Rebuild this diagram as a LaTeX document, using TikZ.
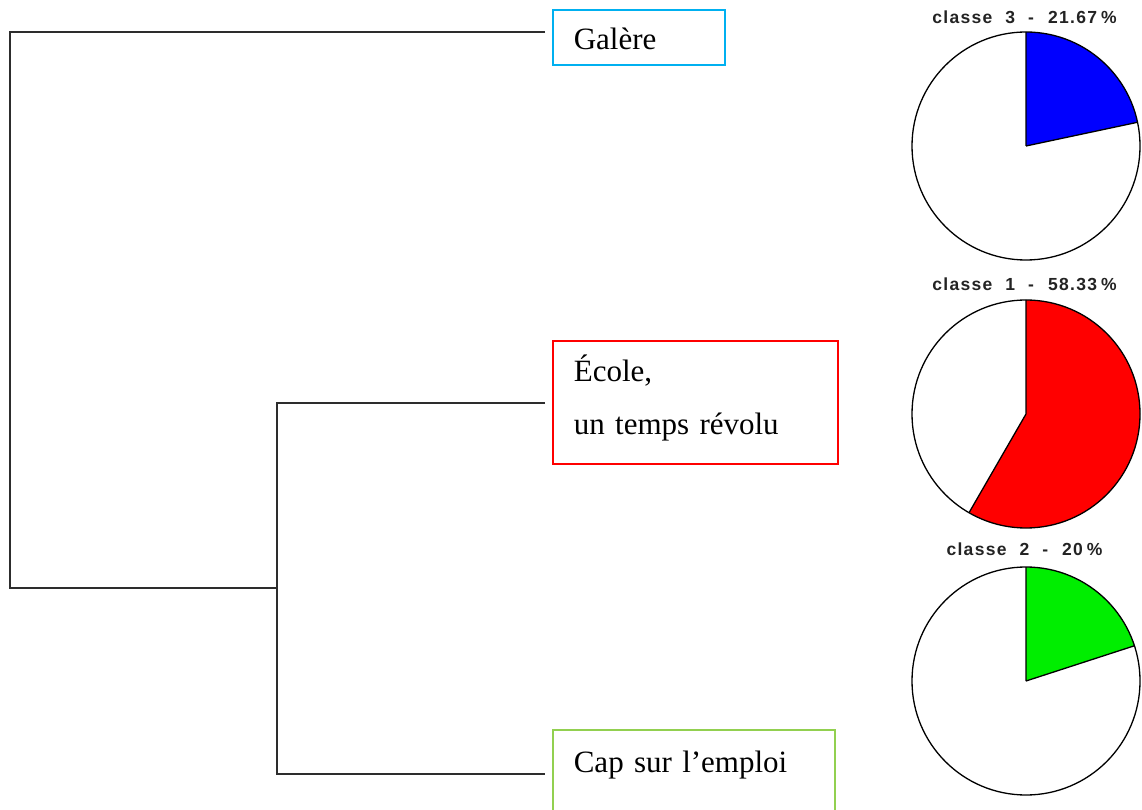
\documentclass[tikz,border=0pt]{standalone}
\usepackage{fontspec}
\setmainfont{Liberation Serif}
\newfontfamily\lblfont[LetterSpace=7.5]{Liberation Sans}
\definecolor{cyanc}{RGB}{0,176,240}
\definecolor{redc}{RGB}{255,0,0}
\definecolor{greenc}{RGB}{146,208,80}
\definecolor{dendc}{RGB}{45,45,45}
\definecolor{lblc}{RGB}{35,35,35}
\definecolor{pieblue}{RGB}{0,0,255}
\definecolor{piered}{RGB}{255,0,0}
\definecolor{piegreen}{RGB}{0,238,0}
\tikzset{
  boxst/.style={draw, line width=1.6pt, rectangle, inner xsep=21pt, inner ysep=0pt,
    align=left, anchor=base west, font=\fontsize{31}{53}\selectfont},
  dend/.style={draw=dendc, line width=2pt, line join=miter},
  pielbl/.style={font=\lblfont\bfseries\fontsize{17.5}{20}\selectfont, text=lblc, inner sep=0pt},
  pieline/.style={draw=black, line width=1.3pt},
}
\newcommand{\pielabel}[2]{classe\hspace{13pt}#1\hspace{13pt}-\hspace{14pt}#2\hspace{4pt}\%}
\begin{document}
\begin{tikzpicture}[x=1pt,y=1pt]
\useasboundingbox (0,0) rectangle (1142,809);
\clip (0,0) rectangle (1142,809);

% boxes
\node[boxst, draw=cyanc, text height=40pt, text depth=15pt, text width=130pt] (galere) at (552,759) {Galère};
\node[boxst, draw=redc, text height=41pt, text depth=82pt, text width=243pt] (ecole) at (552,427) {École,\\un temps révolu};
\node[boxst, draw=greenc, text height=42pt, text depth=70pt, text width=240pt] (cap) at (552,37) {Cap sur l’emploi};

% dendrogram
\coordinate (top) at (10,777);
\coordinate (root) at (10,221);
\coordinate (n1) at (277,221);
\coordinate (n1top) at (277,406);
\coordinate (n1bot) at (277,35);
\draw[dend] ([xshift=-7pt]top -| galere.west) -- (top) -- (root) -- (n1);
\draw[dend] ([xshift=-7pt]n1top -| ecole.west) -- (n1top) -- (n1bot) -- ([xshift=-7pt]n1bot -| cap.west);

% pies
\coordinate (p3) at (1026,663);
\coordinate (p1) at (1026,395);
\coordinate (p2) at (1026,128);

\fill[white] (p3) circle[radius=114pt];
\fill[pieblue] (p3) -- ++(90:114pt) arc[start angle=90, end angle=12, radius=114pt] -- cycle;
\draw[pieline] (p3) -- ++(90:114pt) (p3) -- ++(12:114pt);
\draw[pieline] (p3) circle[radius=114pt];

\fill[white] (p1) circle[radius=114pt];
\fill[piered] (p1) -- ++(90:114pt) arc[start angle=90, end angle=-120, radius=114pt] -- cycle;
\draw[pieline] (p1) -- ++(90:114pt) (p1) -- ++(-120:114pt);
\draw[pieline] (p1) circle[radius=114pt];

\fill[white] (p2) circle[radius=114pt];
\fill[piegreen] (p2) -- ++(90:114pt) arc[start angle=90, end angle=18, radius=114pt] -- cycle;
\draw[pieline] (p2) -- ++(90:114pt) (p2) -- ++(18:114pt);
\draw[pieline] (p2) circle[radius=114pt];

% pie labels
\node[pielbl] (l3) at (1024.5,792) {\pielabel{3}{21.67}};
\node[pielbl] (l1) at (1024.5,525) {\pielabel{1}{58.33}};
\node[pielbl] (l2) at (1024.5,259.5) {\pielabel{2}{20}};
\end{tikzpicture}
\end{document}
